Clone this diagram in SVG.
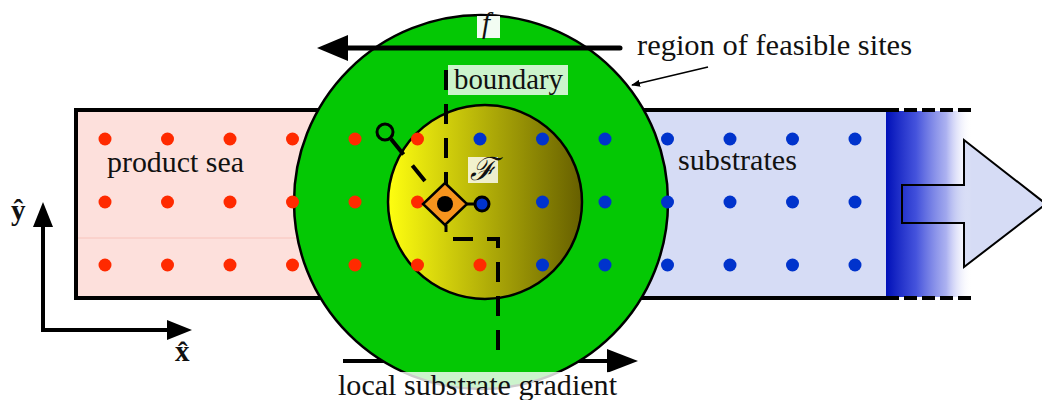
<svg xmlns="http://www.w3.org/2000/svg" width="1042" height="400" viewBox="0 0 1042 400">
<style>
.t{font-family:"Liberation Serif","Times New Roman",serif;font-size:29px;fill:#111}
.r{fill:#ff2a00}
.b{fill:#0033cc}
.dash{fill:none;stroke:#000;stroke-width:4;stroke-dasharray:20 14}
.lbl{fill:#fff;fill-opacity:0.8}
</style>
<defs>
<linearGradient id="inner" x1="0" y1="0" x2="1" y2="0">
<stop offset="0" stop-color="#ffff10"/>
<stop offset="1" stop-color="#665f00"/>
</linearGradient>
<linearGradient id="fade" x1="0" y1="0" x2="1" y2="0">
<stop offset="0" stop-color="#0010b8" stop-opacity="1"/>
<stop offset="0.35" stop-color="#3040d8" stop-opacity="0.9"/>
<stop offset="0.7" stop-color="#8890ea" stop-opacity="0.7"/>
<stop offset="1" stop-color="#ffffff" stop-opacity="0"/>
</linearGradient>
<marker id="ah" viewBox="0 0 10 10" refX="9" refY="5" markerWidth="9" markerHeight="9" markerUnits="userSpaceOnUse" orient="auto">
<path d="M0,1 L10,5 L0,9 Z" fill="#000"/>
</marker>
</defs>

<g id="channel">
<rect x="76" y="110" width="410" height="188" fill="#fde0dc"/>
<rect x="486" y="110" width="400" height="188" fill="#d6dcf5"/>
<line x1="77" y1="238" x2="486" y2="238" stroke="#f8c4bc" stroke-width="1"/>
</g>

<g id="exit-arrow">
<polygon points="902,185 964,185 964,140 1046,204 964,267 964,223 902,223" fill="#d6dcf5" stroke="none"/>
<rect x="886" y="111" width="86" height="186" fill="url(#fade)"/>
<polygon points="902,185 964,185 964,140 1046,204 964,267 964,223 902,223" fill="none" stroke="#000" stroke-width="2"/>
</g>

<g id="channel-outline" fill="none" stroke="#000" stroke-width="4">
<path d="M886,110 H76 V298 H886"/>
<line x1="886" y1="110" x2="975" y2="110" stroke-dasharray="13 5"/>
<line x1="886" y1="298" x2="975" y2="298" stroke-dasharray="13 5"/>
</g>

<g id="gradient-arrow">
<line x1="343" y1="361" x2="609" y2="361" stroke="#000" stroke-width="4"/>
<polygon points="638,361 607,349 607,373" fill="#000"/>
</g>

<g id="feasible-region">
<circle cx="481" cy="202" r="187" fill="#04c804" stroke="#000" stroke-width="2.5"/>
</g>

<g id="local-field">
<circle cx="485" cy="202" r="97" fill="url(#inner)" stroke="#000" stroke-width="2.5"/>
</g>

<g id="products">
<circle class="r" cx="105" cy="139" r="6.5"/><circle class="r" cx="167.5" cy="139" r="6.5"/><circle class="r" cx="230" cy="139" r="6.5"/><circle class="r" cx="292.5" cy="139" r="6.5"/><circle class="r" cx="355" cy="139" r="6.5"/><circle class="r" cx="417.5" cy="139" r="6.5"/>
<circle class="r" cx="105" cy="202" r="6.5"/><circle class="r" cx="167.5" cy="202" r="6.5"/><circle class="r" cx="230" cy="202" r="6.5"/><circle class="r" cx="292.5" cy="202" r="6.5"/><circle class="r" cx="355" cy="202" r="6.5"/><circle class="r" cx="417.5" cy="202" r="6.5"/>
<circle class="r" cx="105" cy="265" r="6.5"/><circle class="r" cx="167.5" cy="265" r="6.5"/><circle class="r" cx="230" cy="265" r="6.5"/><circle class="r" cx="292.5" cy="265" r="6.5"/><circle class="r" cx="355" cy="265" r="6.5"/><circle class="r" cx="417.5" cy="265" r="6.5"/><circle class="r" cx="480" cy="265" r="6.5"/>
</g>

<g id="substrates">
<circle class="b" cx="480" cy="139" r="6.5"/><circle class="b" cx="542.5" cy="139" r="6.5"/><circle class="b" cx="605" cy="139" r="6.5"/><circle class="b" cx="667.5" cy="139" r="6.5"/><circle class="b" cx="730" cy="139" r="6.5"/><circle class="b" cx="792.5" cy="139" r="6.5"/><circle class="b" cx="855" cy="139" r="6.5"/>
<circle class="b" cx="542.5" cy="202" r="6.5"/><circle class="b" cx="605" cy="202" r="6.5"/><circle class="b" cx="667.5" cy="202" r="6.5"/><circle class="b" cx="730" cy="202" r="6.5"/><circle class="b" cx="792.5" cy="202" r="6.5"/><circle class="b" cx="855" cy="202" r="6.5"/>
<circle class="b" cx="542.5" cy="265" r="6.5"/><circle class="b" cx="605" cy="265" r="6.5"/><circle class="b" cx="667.5" cy="265" r="6.5"/><circle class="b" cx="730" cy="265" r="6.5"/><circle class="b" cx="792.5" cy="265" r="6.5"/><circle class="b" cx="855" cy="265" r="6.5"/>
</g>

<g id="connectors">
<line class="dash" x1="446" y1="70" x2="446" y2="184"/>
<line x1="446" y1="225" x2="446" y2="232" stroke="#000" stroke-width="3"/>
<path class="dash" d="M453,239 H498 V356"/>
<line class="dash" x1="391" y1="139" x2="433" y2="191" stroke-dasharray="13 10"/>
<line x1="467" y1="204" x2="478" y2="204" stroke="#000" stroke-width="3"/>
<line x1="708" y1="67" x2="632" y2="85" stroke="#000" stroke-width="1.5" marker-end="url(#ah)"/>
</g>

<g id="flux-arrow">
<line x1="620" y1="48" x2="346" y2="48" stroke="#000" stroke-width="5" stroke-linecap="round"/>
<polygon points="317,48 348,35 348,61" fill="#000"/>
</g>

<g id="site">
<circle cx="385" cy="132" r="8" fill="none" stroke="#000" stroke-width="3"/>
<polygon points="445,183 467,204 445,225 423,204" fill="#f7941d" stroke="#000" stroke-width="2.5"/>
<circle cx="445" cy="204" r="8" fill="#000"/>
<circle cx="482" cy="204" r="7" fill="#0033cc" stroke="#000" stroke-width="3"/>
</g>

<g id="label-f">
<rect fill="#fff" fill-opacity="0.95" x="477" y="16" width="23" height="22"/>
<text class="t" x="482" y="33" font-style="italic" font-size="26">f</text>
</g>

<g id="label-boundary">
<rect class="lbl" x="448" y="65" width="120" height="30"/>
<text class="t" x="454" y="89" textLength="109" lengthAdjust="spacingAndGlyphs">boundary</text>
</g>

<g id="label-F">
<rect class="lbl" x="468" y="157" width="30" height="26"/>
<text x="483" y="180" text-anchor="middle" font-family="DejaVu Serif, serif" font-style="italic" font-size="32" fill="#111">ℱ</text>
</g>

<g id="label-region">
<text class="t" x="637" y="55" textLength="275" lengthAdjust="spacingAndGlyphs">region of feasible sites</text>
</g>

<g id="label-product">
<text class="t" x="107" y="172" textLength="137" lengthAdjust="spacingAndGlyphs">product sea</text>
</g>

<g id="label-substrates">
<text class="t" x="678" y="170" textLength="119" lengthAdjust="spacingAndGlyphs">substrates</text>
</g>

<g id="label-gradient">
<rect class="lbl" x="334" y="372" width="306" height="28"/>
<text class="t" x="338" y="395" textLength="279" lengthAdjust="spacingAndGlyphs">local substrate gradient</text>
</g>

<g id="axes">
<path d="M43,226 V330 H168" fill="none" stroke="#000" stroke-width="4"/>
<polygon points="43,202 33,227 53,227" fill="#000"/>
<polygon points="192,330 167,320 167,340" fill="#000"/>
<text class="t" x="11" y="220" font-weight="bold" font-size="28">ŷ</text>
<text class="t" x="175" y="361" font-weight="bold" font-size="28">x̂</text>
</g>
</svg>
